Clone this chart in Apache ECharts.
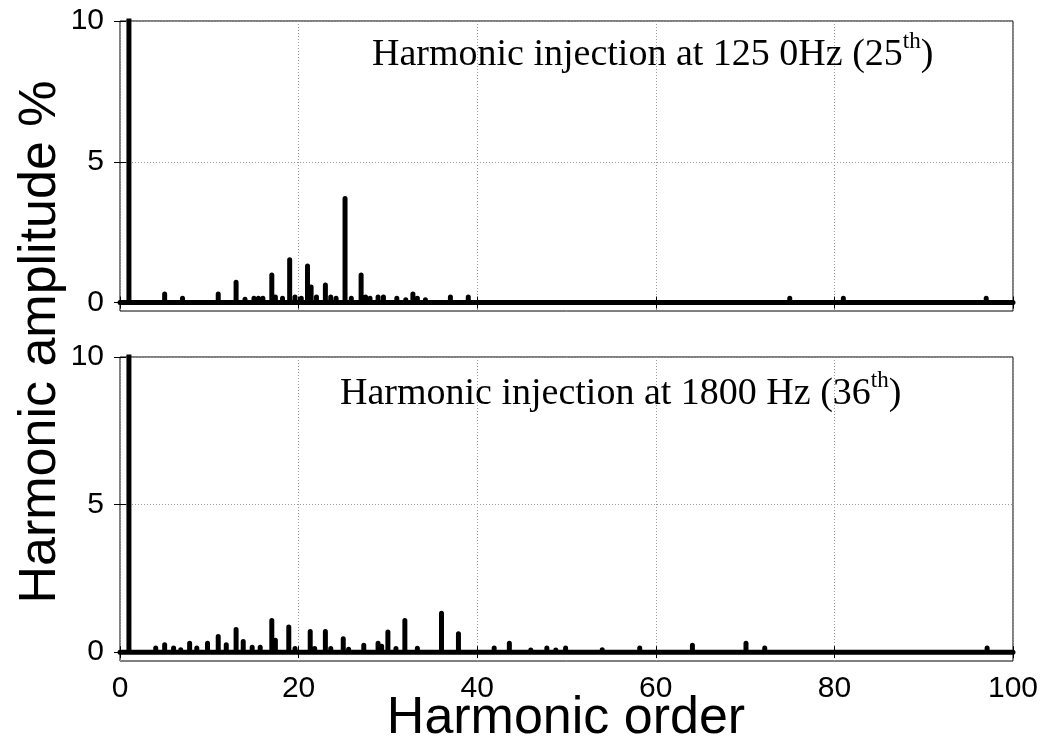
<!DOCTYPE html>
<html>
<head>
<meta charset="utf-8">
<script src="https://cdn.jsdelivr.net/npm/echarts@6/dist/echarts.min.js"></script>
<style>
  html, body { margin: 0; padding: 0; background: #fff; }
  #chart { width: 1053px; height: 756px; }
</style>
</head>
<body>
<div id="chart"></div>
<script>
// Harmonic spectra (amplitude in % of fundamental) for two injection cases
const topOrders = [1, 5, 7, 11, 13, 14, 15, 15.5, 16, 17, 17.4, 18.2, 19, 19.6, 20.3, 21, 21.4, 22, 23, 23.6, 24.2, 25.2, 25.9, 27, 27.5, 28, 28.9, 29.5, 31, 32, 32.8, 33.3, 34.2, 37, 39, 43, 69, 75, 81, 83, 85, 95, 97];
const topAmps   = [100, 0.3, 0.15, 0.3, 0.72, 0.12, 0.15, 0.15, 0.15, 0.98, 0.2, 0.15, 1.52, 0.2, 0.15, 1.3, 0.55, 0.2, 0.62, 0.2, 0.15, 3.7, 0.15, 0.98, 0.2, 0.15, 0.2, 0.2, 0.15, 0.1, 0.3, 0.15, 0.1, 0.2, 0.2, 0.05, 0.03, 0.15, 0.15, 0.03, 0.03, 0.03, 0.15];

const botOrders = [1, 4, 5, 6, 6.8, 7.8, 8.6, 9.8, 11, 11.9, 13, 13.8, 14.8, 15.7, 17, 17.4, 18.9, 19.6, 21.3, 21.8, 23, 23.6, 25, 25.6, 27.3, 28.9, 29.3, 30, 30.9, 31.9, 33.3, 34, 36, 37.9, 40, 41.9, 43.6, 46, 47.8, 48.8, 49.9, 52.3, 54, 56.2, 58.2, 60.3, 64.1, 70.1, 72.2, 85.3, 95.2, 97.1];
const botAmps   = [100, 0.14, 0.25, 0.14, 0.08, 0.3, 0.14, 0.3, 0.53, 0.25, 0.77, 0.36, 0.17, 0.17, 1.07, 0.4, 0.85, 0.12, 0.7, 0.12, 0.7, 0.12, 0.45, 0.1, 0.23, 0.3, 0.2, 0.68, 0.12, 1.07, 0.13, 0.06, 1.32, 0.62, 0.05, 0.14, 0.3, 0.07, 0.14, 0.07, 0.14, 0.03, 0.08, 0.03, 0.14, 0.03, 0.23, 0.3, 0.14, 0.03, 0.03, 0.14];

const xTicks = [0, 20, 40, 60, 80, 100];
const yTicks = [0, 5, 10];
const xRange = [0, 100];
const yRange = [-0.3, 10];

// spectrum line: baseline with a vertical spike at each harmonic
function spectrum(orders, amps) {
  const pts = [[xRange[0], 0]];
  orders.forEach((h, i) => {
    pts.push([h, 0], [h, amps[i]], [h, 0]);
  });
  pts.push([xRange[1], 0]);
  return pts;
}

const sans = 'Liberation Sans, Arial, sans-serif';
const serif = 'Liberation Serif, Times New Roman, serif';
const gridLine = { show: true, lineStyle: { color: '#9a9a9a', type: [1, 2], width: 1 } };
const tick = { show: true, inside: true, length: 6, lineStyle: { color: '#000', width: 1 } };

function xAx(grid, showLabels, pos) {
  return {
    gridIndex: grid, type: 'value', position: pos,
    min: xRange[0], max: xRange[1], interval: 20,
    axisLine: { show: false },
    axisTick: tick,
    axisLabel: { show: showLabels, color: '#000', fontFamily: sans, fontSize: 30, margin: 13 },
    splitLine: pos === 'bottom' ? gridLine : { show: false }
  };
}
function yAx(grid, showLabels, pos) {
  return {
    gridIndex: grid, type: 'value', position: pos,
    min: yRange[0], max: yRange[1],
    axisLine: { show: false },
    axisTick: Object.assign({ customValues: yTicks }, tick),
    axisLabel: { show: showLabels, customValues: yTicks, color: '#000', fontFamily: sans, fontSize: 30, margin: 16 },
    splitLine: pos === 'left' ? gridLine : { show: false }
  };
}

const lineStyle = { width: 5, color: '#000', cap: 'round', join: 'round' };
const titleRich = {
  n: { fontFamily: serif, fontSize: 38, fill: '#000', verticalAlign: 'bottom', lineHeight: 44 },
  s: { fontFamily: serif, fontSize: 23, fill: '#000', verticalAlign: 'top', lineHeight: 44, padding: [0, 0, 16, 0] }
};

const chart = echarts.init(document.getElementById('chart'), null, { renderer: 'canvas' });
chart.setOption({
  animation: false,
  backgroundColor: '#fff',
  grid: [
    { left: 120, top: 21, width: 893, height: 290, show: true, borderColor: '#000', borderWidth: 1, backgroundColor: 'transparent' },
    { left: 120, top: 357, width: 893, height: 304, show: true, borderColor: '#000', borderWidth: 1, backgroundColor: 'transparent' }
  ],
  xAxis: [xAx(0, false, 'bottom'), xAx(0, false, 'top'), xAx(1, true, 'bottom'), xAx(1, false, 'top')],
  yAxis: [yAx(0, true, 'left'), yAx(0, false, 'right'), yAx(1, true, 'left'), yAx(1, false, 'right')],
  series: [
    { type: 'line', xAxisIndex: 0, yAxisIndex: 0, data: spectrum(topOrders, topAmps), symbol: 'none', lineStyle: lineStyle, clip: true, z: 5 },
    { type: 'line', xAxisIndex: 2, yAxisIndex: 2, data: spectrum(botOrders, botAmps), symbol: 'none', lineStyle: lineStyle, clip: true, z: 5 }
  ],
  graphic: [
    {
      type: 'text', left: 372, top: 30, z: 10,
      style: { text: '{n|Harmonic injection at 125 0Hz (25}{s|th}{n|)}', rich: titleRich }
    },
    {
      type: 'text', left: 340, top: 369, z: 10,
      style: { text: '{n|Harmonic injection at 1800 Hz (36}{s|th}{n|)}', rich: titleRich }
    },
    {
      type: 'text', x: 41, y: 342, rotation: Math.PI / 2, z: 10,
      style: { text: 'Harmonic amplitude %', fontFamily: sans, fontSize: 52, fill: '#000', align: 'center', verticalAlign: 'middle' }
    },
    {
      type: 'text', x: 566, y: 719, z: 10,
      style: { text: 'Harmonic order', fontFamily: sans, fontSize: 52, fill: '#000', align: 'center', verticalAlign: 'middle' }
    }
  ]
});
</script>
</body>
</html>
